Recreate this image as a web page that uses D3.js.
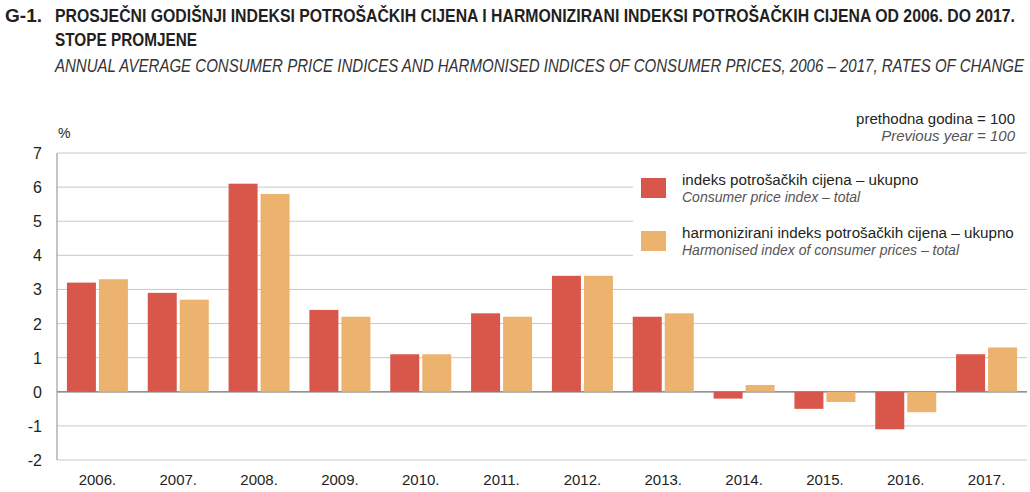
<!DOCTYPE html>
<html>
<head>
<meta charset="UTF-8">
<title>G-1</title>
<script src="https://d3js.org/d3.v7.min.js"></script>
<style>
    body {margin: 0; background: #fff;}
    text {font-family: "Liberation Sans Narrow", "Liberation Sans", Arial, sans-serif; fill: #231f20;}
    .it {font-style: italic; fill: #555;}
</style>
</head>
<body>
<div id="chart"></div>
<script>
    var years = ["2006.", "2007.", "2008.", "2009.", "2010.", "2011.", "2012.", "2013.", "2014.", "2015.", "2016.", "2017."];
    var cpi  = [3.2, 2.9, 6.1, 2.4, 1.1, 2.3, 3.4, 2.2, -0.2, -0.5, -1.1, 1.1];
    var hicp = [3.3, 2.7, 5.8, 2.2, 1.1, 2.2, 3.4, 2.3, 0.2, -0.3, -0.6, 1.3];
    var yTicks = [-2, -1, 0, 1, 2, 3, 4, 5, 6, 7];
    var colors = ["#d9564a", "#ecb36f"];

    var W = 1030, H = 492;
    var plotLeft = 57, plotRight = 1027, plotTop = 153, plotBottom = 460;

    var svg = d3.select("#chart").append("svg")
        .attr("width", W).attr("height", H);

    var x = d3.scaleBand().domain(years).range([plotLeft, plotRight]).paddingInner(0).paddingOuter(0);
    var y = d3.scaleLinear().domain([-2, 7]).range([plotBottom, plotTop]);

    // grid lines (legend box hides 4..6 on the right)
    var legendLeft = 633;
    svg.append("g").selectAll("line")
        .data(yTicks)
        .enter().append("line")
        .attr("x1", plotLeft)
        .attr("x2", function(d) { return (d >= 4 && d <= 6) ? legendLeft : plotRight; })
        .attr("y1", function(d) { return y(d); })
        .attr("y2", function(d) { return y(d); })
        .attr("stroke", function(d) { return d == 0 ? "#6d6e71" : "#c8c8c8"; })
        .attr("stroke-width", function(d) { return d == 0 ? 1.3 : 1; });

    // y axis line
    svg.append("line")
        .attr("x1", plotLeft).attr("x2", plotLeft)
        .attr("y1", y(7)).attr("y2", y(-2))
        .attr("stroke", "#8a8a8a").attr("stroke-width", 1);

    // tick labels
    svg.append("g").selectAll("text")
        .data(yTicks)
        .enter().append("text")
        .attr("x", 42)
        .attr("y", function(d) { return y(d) + 6; })
        .attr("text-anchor", "end")
        .style("font-size", "16px")
        .text(function(d) { return d; });

    svg.append("g").selectAll("text")
        .data(years)
        .enter().append("text")
        .attr("x", function(d) { return x(d) + x.bandwidth() / 2; })
        .attr("y", 485)
        .attr("text-anchor", "middle")
        .style("font-size", "15px")
        .text(function(d) { return d; });

    // bars
    var barW = 29, gap = 3;
    var off = (x.bandwidth() - 2 * barW - gap) / 2;
    [cpi, hicp].forEach(function(series, s) {
        svg.append("g").selectAll("rect")
            .data(series)
            .enter().append("rect")
            .attr("x", function(d, i) { return x(years[i]) + off + s * (barW + gap); })
            .attr("y", function(d) { return y(Math.max(0, d)); })
            .attr("width", barW)
            .attr("height", function(d) { return Math.abs(y(d) - y(0)); })
            .attr("fill", colors[s]);
    });

    // titles
    svg.append("text").attr("x", 5).attr("y", 22)
        .style("font-size", "18px").style("font-weight", "bold")
        .attr("textLength", 37).attr("lengthAdjust", "spacingAndGlyphs")
        .text("G-1.");
    svg.append("text").attr("x", 55).attr("y", 22)
        .style("font-size", "16px").style("font-weight", "bold")
        .attr("transform", "translate(55,22) scale(1,1.12) translate(-55,-22)")
        .attr("textLength", 960).attr("lengthAdjust", "spacingAndGlyphs")
        .text("PROSJEČNI GODIŠNJI INDEKSI POTROŠAČKIH CIJENA I HARMONIZIRANI INDEKSI POTROŠAČKIH CIJENA OD 2006. DO 2017.");
    svg.append("text").attr("x", 55).attr("y", 46)
        .style("font-size", "18px").style("font-weight", "bold")
        .attr("textLength", 142).attr("lengthAdjust", "spacingAndGlyphs")
        .text("STOPE PROMJENE");
    svg.append("text").attr("x", 55).attr("y", 72)
        .attr("class", "it").style("fill", "#333")
        .style("font-size", "15px")
        .attr("transform", "translate(55,72) scale(1,1.2) translate(-55,-72)")
        .attr("textLength", 969).attr("lengthAdjust", "spacingAndGlyphs")
        .text("ANNUAL AVERAGE CONSUMER PRICE INDICES AND HARMONISED INDICES OF CONSUMER PRICES, 2006 – 2017, RATES OF CHANGE");

    svg.append("text").attr("x", 1015).attr("y", 124)
        .attr("text-anchor", "end").style("font-size", "15px")
        .text("prethodna godina = 100");
    svg.append("text").attr("x", 1015).attr("y", 141)
        .attr("text-anchor", "end").attr("class", "it").style("font-size", "15px")
        .text("Previous year = 100");

    svg.append("text").attr("x", 58).attr("y", 138)
        .style("font-size", "14px").text("%");

    // legend
    var legend = [
        ["indeks potrošačkih cijena – ukupno", "Consumer price index – total"],
        ["harmonizirani indeks potrošačkih cijena – ukupno", "Harmonised index of consumer prices – total"]
    ];
    legend.forEach(function(l, i) {
        var ly = 178 + i * 53;
        svg.append("rect").attr("x", 641).attr("y", ly).attr("width", 25).attr("height", 20)
            .attr("fill", colors[i]);
        svg.append("text").attr("x", 682).attr("y", ly + 7)
            .style("font-size", "15.2px").text(l[0]);
        svg.append("text").attr("x", 682).attr("y", ly + 24)
            .attr("class", "it").style("font-size", "14px").text(l[1]);
    });
</script>
</body>
</html>
